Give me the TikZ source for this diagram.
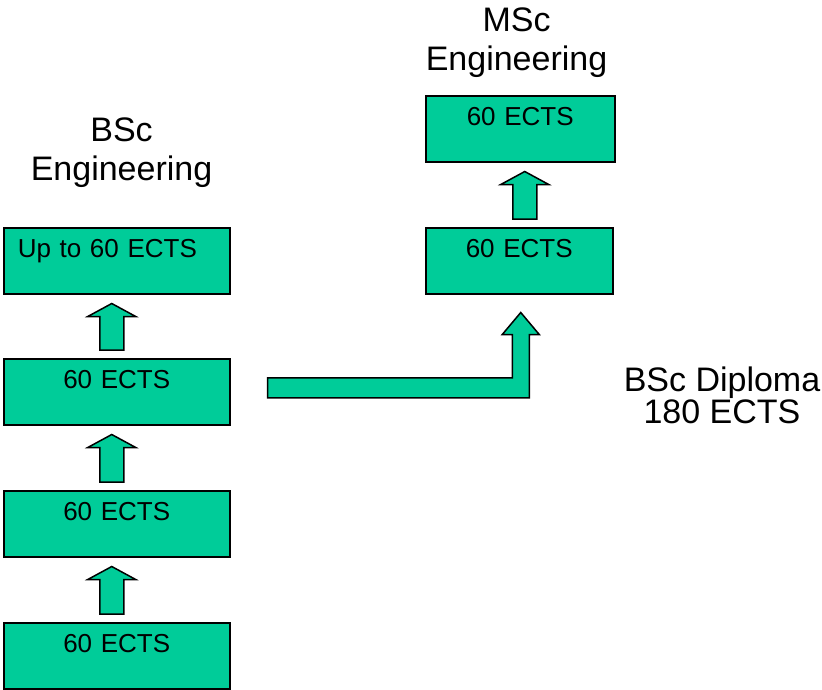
\documentclass[tikz,border=0pt]{standalone}
\usepackage{fontspec}
\setmainfont{Liberation Sans}
\usetikzlibrary{calc}
\definecolor{ectsgreen}{RGB}{0,204,153}
\tikzset{
  ectsbox/.style={draw, fill=ectsgreen, line width=1.5pt, rectangle, anchor=north west,
    inner xsep=0pt, inner ysep=0pt, text height=30pt, text depth=36pt,
    align=center, font=\fontsize{26}{30}\selectfont},
  blockarrow/.style={draw, fill=ectsgreen, line width=1.5pt, line join=miter},
  heading/.style={anchor=base, align=center, inner sep=0pt, font=\fontsize{34}{38.5}\selectfont}
}
% block arrow from a lower box up to an upper box
\newcommand{\blockup}[3]{%
  \draw[blockarrow] let \p1=(#1.north), \p2=(#2.south) in
    (\x1+#3pt-12pt,\y1+8pt) -- (\x1+#3pt+12pt,\y1+8pt) -- (\x1+#3pt+12pt,\y2-22pt)
    -- (\x1+#3pt+24pt,\y2-22pt) -- (\x1+#3pt,\y2-9pt) -- (\x1+#3pt-24pt,\y2-22pt)
    -- (\x1+#3pt-12pt,\y2-22pt) -- cycle;}

\begin{document}
\begin{tikzpicture}[x=1pt, y=-1pt]
  \useasboundingbox (0,0) rectangle (822,689);
  \node[ectsbox, text width=226pt] (b4) at (3,622) {60 ECTS};
  \node[ectsbox, text width=226pt] (b3) at (3,490) {60 ECTS};
  \node[ectsbox, text width=226pt] (b2) at (3,358) {60 ECTS};
  \node[ectsbox, align=left, inner xsep=14pt, text width=198pt] (b1) at (3,227) {Up to 60 ECTS};
  \node[ectsbox, text width=187pt] (r2) at (425,227) {60 ECTS};
  \node[ectsbox, text width=189pt] (r1) at (425,95) {60 ECTS};
  \node[heading] (bsc) at (121.5,180) {BSc\\Engineering};
  \node[heading] (msc) at (516.5,70) {MSc\\Engineering};
  \node[heading, font=\fontsize{34}{32}\selectfont] (diploma) at (722,423) {BSc Diploma\\180 ECTS};
  % Draw the block arrows
  \blockup{b4}{b3}{-5}
  \blockup{b3}{b2}{-5}
  \blockup{b2}{b1}{-5}
  \blockup{r2}{r1}{5.5}
  \draw[blockarrow] let \p1=(b2.east), \p2=(r2.south) in
    (\x1+37pt,\y1+14pt) -- (\x2-7pt,\y1+14pt) -- (\x2-7pt,\y2-40pt) -- (\x2-17pt,\y2-40pt)
    -- (\x2+1.5pt,\y2-18pt) -- (\x2+20pt,\y2-40pt) -- (\x2+10pt,\y2-40pt)
    -- (\x2+10pt,\y1-6pt) -- (\x1+37pt,\y1-6pt) -- cycle;
\end{tikzpicture}
\end{document}
